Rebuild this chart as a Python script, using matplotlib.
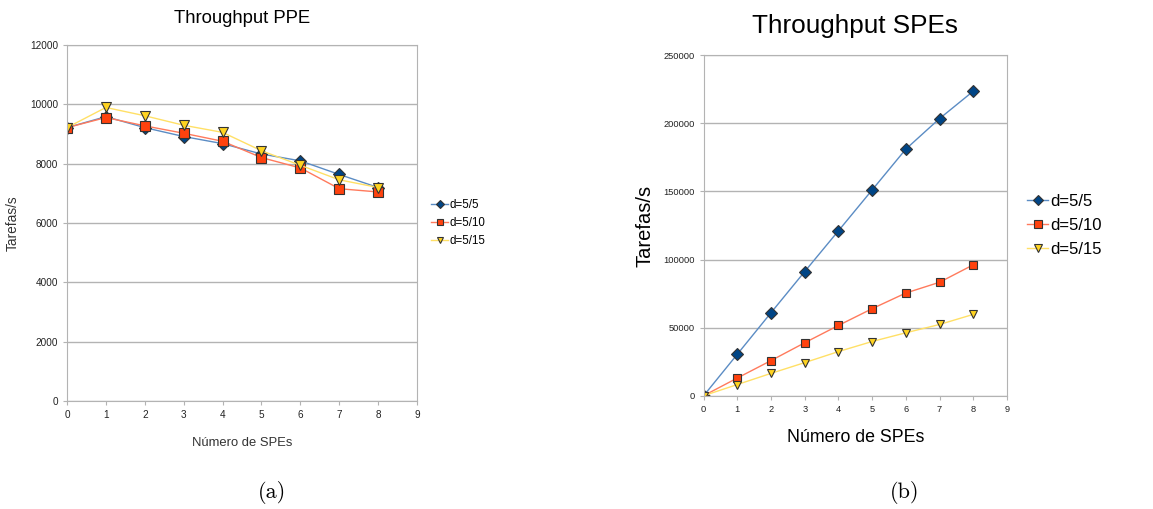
import matplotlib
matplotlib.use("Agg")
import matplotlib.pyplot as plt

# Dados
spes = [0, 1, 2, 3, 4, 5, 6, 7, 8]
series = ["d=5/5", "d=5/10", "d=5/15"]

ppe_d5 = [9220, 9590, 9220, 8920, 8680, 8330, 8100, 7640, 7200]
ppe_d10 = [9220, 9560, 9280, 9030, 8760, 8210, 7860, 7160, 7050]
ppe_d15 = [9220, 9900, 9620, 9300, 9060, 8440, 7950, 7460, 7200]

spe_d5 = [0, 30500, 61000, 91200, 121100, 151100, 181100, 203500, 223600]
spe_d10 = [0, 13000, 25800, 38900, 51600, 63900, 75400, 83300, 96100]
spe_d15 = [0, 8200, 16400, 24300, 32400, 39800, 46200, 52300, 59700]

# estilos (marcador, cor do marcador, cor da linha)
estilos = [
    ("D", "#004586", "#5b8cc4"),
    ("s", "#ff420e", "#ff7a5c"),
    ("v", "#ffd320", "#ffe066"),
]

plt.rcParams["font.family"] = ["Liberation Sans", "DejaVu Sans"]

fig = plt.figure(figsize=(11.53, 5.09), dpi=100)
ax1 = fig.add_axes([0.0581, 0.2122, 0.3036, 0.699])
ax2 = fig.add_axes([0.6103, 0.2226, 0.263, 0.6688])


def desenhar(ax, dados, ms, lw):
    for nome, ys, (mk, cor, cor_linha) in zip(series, dados, estilos):
        ax.plot(spes, ys, color=cor_linha, lw=lw, marker=mk, ms=ms,
                markerfacecolor=cor, markeredgecolor="#333333", mew=0.8,
                label=nome)
    ax.set_xlim(0, 9)
    ax.set_xticks(range(10))
    ax.grid(axis="y", color="#b3b3b3", lw=1)
    ax.set_axisbelow(True)
    for sp in ax.spines.values():
        sp.set_color("#b3b3b3")
    ax.tick_params(colors="#b3b3b3", length=3, labelcolor="#222222")


# (a) PPE
desenhar(ax1, [ppe_d5, ppe_d10, ppe_d15], 6.5, 1.0)
ax1.set_ylim(0, 12000)
ax1.set_yticks(range(0, 12001, 2000))
ax1.tick_params(labelsize=7.2)
ax1.set_title("Throughput PPE", fontsize=13.3, pad=16)
ax1.set_xlabel("Número de SPEs", fontsize=9.4, color="#333333", labelpad=12)
ax1.set_ylabel("Tarefas/s", fontsize=9.8, color="#333333", labelpad=7)
ax1.legend(loc="center left", bbox_to_anchor=(1.028, 0.5), frameon=False,
           fontsize=8.3, handlelength=1.4, handletextpad=0.15,
           labelspacing=0.5, borderaxespad=0, markerscale=0.7)

# (b) SPEs
desenhar(ax2, [spe_d5, spe_d10, spe_d15], 6.2, 1.0)
ax2.set_ylim(0, 250000)
ax2.set_yticks(range(0, 250001, 50000))
ax2.tick_params(labelsize=6.7)
ax2.set_title("Throughput SPEs", fontsize=18.8, pad=16)
ax2.set_xlabel("Número de SPEs", fontsize=12.8, labelpad=11)
ax2.set_ylabel("Tarefas/s", fontsize=14.5, labelpad=6)
ax2.legend(loc="center left", bbox_to_anchor=(1.045, 0.5), frameon=False,
           fontsize=12, handlelength=1.25, handletextpad=0.15,
           labelspacing=0.55, borderaxespad=0, markerscale=0.85)

# legendas das subfiguras
fig.text(272 / 1153, 1 - 493 / 509, "(a)", family="cmr10", fontsize=16,
         ha="center", va="center")
fig.text(905 / 1153, 1 - 493 / 509, "(b)", family="cmr10", fontsize=16,
         ha="center", va="center")

fig.savefig("out.png", dpi=100)
